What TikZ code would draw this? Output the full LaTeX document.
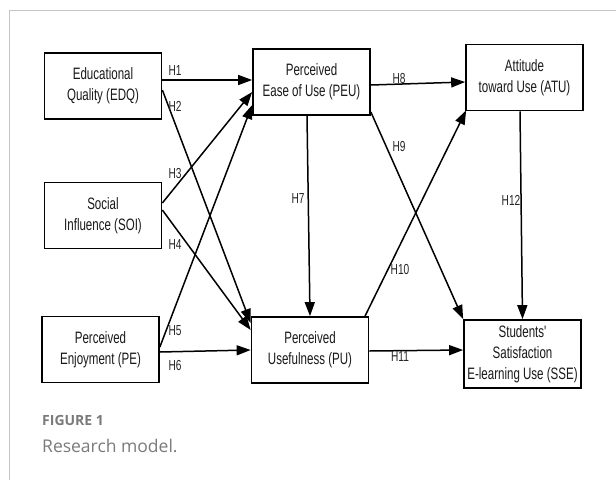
\documentclass[tikz,border=0pt]{standalone}
\usepackage{fontspec}
\setmainfont{Liberation Sans}
\newfontfamily\narrowsf[FakeStretch=0.7]{Liberation Sans}
\newfontfamily\capfont{Open Sans}
\usetikzlibrary{arrows.meta,calc}
\definecolor{framegray}{HTML}{C4C4C4}
\definecolor{capgray}{HTML}{7A7A7A}

\begin{document}
\begin{tikzpicture}[x=1pt, y=-1pt, >={Triangle[length=14pt,width=10pt]},
  box/.style={draw, line width=1.7pt, minimum width=117pt, minimum height=66pt, inner sep=0pt, align=center, text=black!90, font=\narrowsf\fontsize{16.5}{21}\selectfont},
  hyp/.style={inner sep=0pt, text=black!85, font=\narrowsf\fontsize{14.5}{15}\selectfont},
  link/.style={->, line width=1.5pt}]
  \useasboundingbox (0,0) rectangle (616,480);
  \draw[framegray, line width=1pt] (9,480) -- (9,10) -- (616,10);

  \node[box] (edq) at (103,86) {Educational\\Quality (EDQ)};
  \node[box] (soi) at (103,215.5) {Social\\Influence (SOI)};
  \node[box] (pe) at (100.5,349.5) {Perceived\\Enjoyment (PE)};
  \node[box] (peu) at (311.5,82) {Perceived\\Ease of Use (PEU)};
  \node[box] (pu) at (310,350) {Perceived\\Usefulness (PU)};
  \node[box] (atu) at (524.5,77.5) {Attitude\\toward Use (ATU)};
  \node[box, minimum height=68pt] (sse) at (522.5,354) {Students'\\Satisfaction\\E-learning Use (SSE)};

  \draw[link] ([yshift=6pt]edq.east) -- ([yshift=2pt]peu.west);
  \draw[link] ([yshift=-4pt]edq.east) -- ([yshift=27pt]pu.west);
  \draw[link] ([yshift=12.5pt]soi.east) -- ([yshift=-10pt]peu.west);
  \draw[link] ([yshift=5.5pt]soi.east) -- ([yshift=20pt]pu.west);
  \draw[link] ([yshift=2.5pt]pe.east) -- ([yshift=-23pt]peu.west);
  \draw[link] ([yshift=-2.5pt]pe.east) -- (pu.west);
  \draw[link] ([xshift=-4.5pt]peu.south) -- (pu.north);
  \draw[link] ([yshift=-3pt]peu.east) -- ([yshift=-4.5pt]atu.west);
  \draw[link] ([yshift=-30pt]peu.east) -- (sse.north west);
  \draw[link] ([xshift=55pt]pu.north) -- ([xshift=1pt,yshift=1pt]atu.south west);
  \draw[link] ([yshift=-1pt]pu.east) -- ([yshift=4pt]sse.west);
  \draw[link] ([xshift=-4.5pt]atu.south) -- (sse.north);

  \node[hyp] (h1) at (175,71) {H1};
  \node[hyp] (h2) at (175,106) {H2};
  \node[hyp] (h3) at (175,174) {H3};
  \node[hyp] (h4) at (175,245) {H4};
  \node[hyp] (h5) at (175,331) {H5};
  \node[hyp] (h6) at (175,366) {H6};
  \node[hyp] (h7) at (298,199) {H7};
  \node[hyp] (h8) at (399,79) {H8};
  \node[hyp] (h9) at (399,147) {H9};
  \node[hyp] (h10) at (400,270) {H10};
  \node[hyp] (h11) at (400,357) {H11};
  \node[hyp] (h12) at (511,200) {H12};

  \node[anchor=base west, inner sep=0pt, text=capgray, font=\capfont\bfseries\fontsize{14}{16}\selectfont] (fig) at (42,425) {FIGURE 1};
  \node[anchor=base west, inner sep=0pt, text=capgray, font=\capfont\fontsize{17.5}{20}\selectfont] (cap) at (42,452) {Research model.};
\end{tikzpicture}
\end{document}
